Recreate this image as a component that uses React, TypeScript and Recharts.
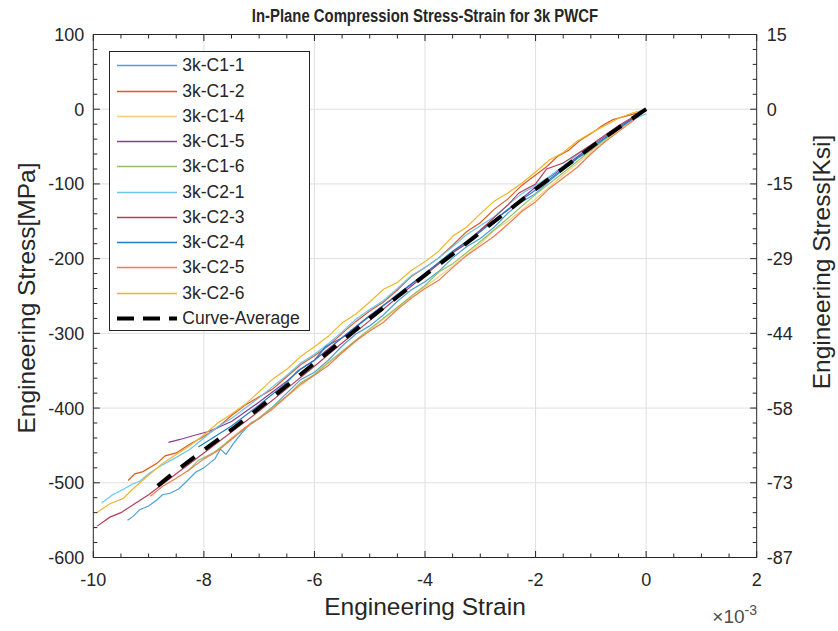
import React from "react";
import { LineChart, Line, XAxis, YAxis, ReferenceLine } from "recharts";

// strain values are in units of 1e-3, stress in MPa
const c11Strain = [0, -0.25, -0.5, -0.75, -1, -1.25, -1.5, -1.75, -2, -2.25, -2.5, -2.75, -3, -3.25, -3.5, -3.75, -4, -4.25, -4.5, -4.75, -5, -5.25, -5.5, -5.75, -6, -6.25, -6.5, -6.75, -7, -7.15, -7.3, -7.45, -7.6, -7.7, -7.8, -8, -8.15, -8.31, -8.45, -8.61, -8.75, -8.85, -9, -9.16, -9.28, -9.38];
const c11Stress = [0, -14, -27, -40, -55, -66, -81, -96, -113, -124, -139, -158, -173, -184, -199, -217, -231, -242, -257, -275, -290, -301, -317, -336, -352, -362, -380, -398, -414, -420, -432, -446, -462, -455, -468, -480, -486, -498, -508, -514, -516, -523, -531, -536, -545, -550];

const c12Strain = [0, -0.2, -0.4, -0.6, -0.8, -1, -1.2, -1.4, -1.6, -1.8, -2, -2.25, -2.5, -2.75, -3, -3.25, -3.5, -3.75, -4, -4.25, -4.5, -4.75, -5, -5.25, -5.5, -5.75, -6, -6.25, -6.5, -6.75, -7, -7.25, -7.5, -7.75, -8, -8.25, -8.5, -8.7, -8.85, -9.1, -9.25, -9.37];
const c12Stress = [0, -6, -10, -14, -22, -33, -42, -55, -63, -77, -88, -102, -120, -134, -152, -164, -182, -199, -212, -224, -242, -258, -270, -284, -300, -317, -330, -342, -358, -374, -385, -396, -410, -426, -438, -448, -460, -464, -474, -485, -488, -497];

const c14Strain = [0, -0.5, -1, -1.5, -2, -2.5, -2.75, -3, -3.5, -4, -4.25, -4.5, -5, -5.5, -5.75, -6, -6.5, -7, -7.3, -7.6];
const c14Stress = [0, -28, -58, -88, -120, -150, -162, -180, -210, -238, -250, -266, -296, -326, -338, -355, -385, -414, -428, -446];

const c15Strain = [0, -0.5, -1, -1.5, -2, -2.5, -3, -3.25, -3.5, -4, -4.5, -5, -5.5, -6, -6.25, -6.5, -7, -7.5, -7.9, -8.2, -8.43, -8.64];
const c15Stress = [0, -24, -50, -78, -104, -135, -162, -180, -192, -220, -249, -276, -306, -336, -348, -364, -392, -418, -431, -437, -442, -446];

const c16Strain = [0, -0.5, -1, -1.5, -2, -2.5, -3, -3.5, -3.75, -4, -4.5, -5, -5.5, -6, -6.25, -6.5, -7, -7.5, -7.83, -8.1, -8.3];
const c16Stress = [0, -27, -55, -85, -114, -146, -177, -207, -218, -236, -265, -294, -324, -355, -366, -384, -413, -441, -460, -470, -485];

const c21Strain = [0, -0.25, -0.5, -0.75, -1, -1.25, -1.5, -1.75, -2, -2.25, -2.5, -2.75, -3, -3.25, -3.5, -3.75, -4, -4.25, -4.5, -4.75, -5, -5.25, -5.5, -5.75, -6, -6.25, -6.5, -6.75, -7, -7.25, -7.5, -7.75, -8, -8.25, -8.5, -8.75, -9, -9.16, -9.3, -9.46, -9.65, -9.85];
const c21Stress = [-6, -14, -26, -39, -50, -61, -76, -90, -102, -113, -128, -144, -156, -168, -184, -199, -212, -223, -240, -256, -268, -281, -298, -314, -328, -340, -356, -371, -386, -400, -414, -425, -440, -455, -466, -476, -488, -498, -502, -509, -516, -527];

const c23Strain = [0, -0.5, -1, -1.5, -1.8, -2, -2.3, -2.5, -3, -3.5, -4, -4.5, -5, -5.5, -6, -6.5, -7, -7.5, -8, -8.5, -9, -9.21, -9.5, -9.7, -9.93];
const c23Stress = [0, -22, -48, -72, -80, -100, -112, -128, -162, -192, -222, -252, -283, -313, -344, -374, -404, -432, -460, -488, -516, -526, -540, -546, -558];

const c24Strain = [0, -0.5, -1, -1.5, -2, -2.5, -3, -3.5, -4, -4.5, -5, -5.5, -5.8, -6, -6.3, -6.5, -7, -7.5, -8.1];
const c24Stress = [0, -26, -52, -80, -108, -134, -164, -190, -220, -248, -277, -306, -318, -336, -350, -366, -396, -424, -452];

const c25Strain = [0, -0.25, -0.5, -0.75, -1, -1.25, -1.5, -1.75, -2, -2.25, -2.5, -2.75, -3, -3.25, -3.5, -3.75, -4, -4.25, -4.5, -4.75, -5, -5.25, -5.5, -5.75, -6, -6.25, -6.5, -6.75, -7, -7.25, -7.5, -7.75, -8, -8.25, -8.5, -8.75, -8.97];
const c25Stress = [0, -16, -30, -44, -60, -78, -92, -106, -124, -137, -154, -170, -183, -196, -212, -229, -240, -253, -268, -285, -297, -310, -326, -343, -356, -368, -384, -401, -414, -426, -442, -457, -468, -482, -494, -505, -518];

const c26Strain = [0, -0.25, -0.5, -0.75, -1, -1.25, -1.5, -1.75, -2, -2.25, -2.5, -2.75, -3, -3.25, -3.5, -3.75, -4, -4.25, -4.5, -4.75, -5, -5.25, -5.5, -5.75, -6, -6.25, -6.5, -6.75, -7, -7.25, -7.5, -7.75, -8, -8.25, -8.5, -8.75, -9, -9.25, -9.46, -9.7, -9.94];
const c26Stress = [0, -5, -12, -22, -32, -43, -58, -68, -84, -99, -112, -123, -140, -158, -170, -190, -204, -216, -232, -241, -258, -274, -286, -304, -318, -331, -348, -361, -378, -395, -408, -420, -436, -450, -462, -474, -490, -506, -521, -528, -540];

const avgStrain = [0, -0.5, -1, -1.5, -2, -2.5, -3, -3.5, -4, -4.5, -5, -5.5, -6, -6.5, -7, -7.5, -8, -8.5, -8.9];
const avgStress = [0, -25, -51, -79, -107, -136, -165, -194, -222, -251, -280, -310, -340, -370, -400, -429, -456, -484, -508];

const xMajorTicks = [-10, -8, -6, -4, -2, 0, 2];
const yMajorTicks = [100, 0, -100, -200, -300, -400, -500, -600];
const rightTickLabels = ["15", "0", "-15", "-29", "-44", "-58", "-73", "-87"];

const toPoints = (xs: number[], ys: number[]) => xs.map((x, i) => ({ x, y: ys[i] }));

const specimens = [
  { name: "3k-C1-1", color: "#4d9fd8", data: toPoints(c11Strain, c11Stress) },
  { name: "3k-C1-2", color: "#dd5a22", data: toPoints(c12Strain, c12Stress) },
  { name: "3k-C1-4", color: "#f2cf7e", data: toPoints(c14Strain, c14Stress) },
  { name: "3k-C1-5", color: "#8a3d9a", data: toPoints(c15Strain, c15Stress) },
  { name: "3k-C1-6", color: "#92c063", data: toPoints(c16Strain, c16Stress) },
  { name: "3k-C2-1", color: "#6cc6ef", data: toPoints(c21Strain, c21Stress) },
  { name: "3k-C2-3", color: "#b3405a", data: toPoints(c23Strain, c23Stress) },
  { name: "3k-C2-4", color: "#1f7fc4", data: toPoints(c24Strain, c24Stress) },
  { name: "3k-C2-5", color: "#ef7b4f", data: toPoints(c25Strain, c25Stress) },
  { name: "3k-C2-6", color: "#f0b52a", data: toPoints(c26Strain, c26Stress) },
];
const avgData = toPoints(avgStrain, avgStress);

// minor tick positions (every 0.5 on x, every 20 MPa on y)
const xAllTicks: number[] = [];
for (let v = -10; v <= 2.001; v += 0.5) xAllTicks.push(Math.round(v * 10) / 10);
const yAllTicks: number[] = [];
for (let v = 100; v >= -600; v -= 20) yAllTicks.push(v);

const W = 838;
const H = 631;
// axes take 1px each, so the plot box is 93.3..756.7 x 34.5..557.5
const M = { top: 33.5, right: 80.3, bottom: 72.5, left: 92.3 };
const AX = "#262626";
const FONT = "'Liberation Sans', Arial, sans-serif";
const TICK_FS = 18;
const MAJ = 6.5;
const MIN = 4;

const isXMajor = (v: number) => xMajorTicks.some((t) => Math.abs(t - v) < 1e-6);
const isYMajor = (v: number) => yMajorTicks.some((t) => Math.abs(t - v) < 1e-6);

const BottomTick = (p: any) => {
  const major = isXMajor(p.payload.value);
  return (
    <g>
      <line x1={p.x} x2={p.x} y1={p.y} y2={p.y - (major ? MAJ : MIN)} stroke={AX} />
      {major && (
        <text x={p.x} y={p.y + 28} textAnchor="middle" fontSize={TICK_FS} fontFamily={FONT} fill={AX}>
          {p.payload.value}
        </text>
      )}
    </g>
  );
};

const TopTick = (p: any) => {
  const major = isXMajor(p.payload.value);
  return <line x1={p.x} x2={p.x} y1={p.y} y2={p.y + (major ? MAJ : MIN)} stroke={AX} />;
};

const LeftTick = (p: any) => {
  const major = isYMajor(p.payload.value);
  return (
    <g>
      <line x1={p.x} x2={p.x + (major ? MAJ : MIN)} y1={p.y} y2={p.y} stroke={AX} />
      {major && (
        <text x={p.x - 9} y={p.y + 6.5} textAnchor="end" fontSize={TICK_FS} fontFamily={FONT} fill={AX}>
          {p.payload.value}
        </text>
      )}
    </g>
  );
};

const RightTick = (p: any) => {
  const v = p.payload.value;
  const idx = yMajorTicks.findIndex((t) => Math.abs(t - v) < 1e-6);
  return (
    <g>
      <line x1={p.x} x2={p.x - (idx >= 0 ? MAJ : MIN)} y1={p.y} y2={p.y} stroke={AX} />
      {idx >= 0 && (
        <text x={p.x + 10} y={p.y + 6.5} textAnchor="start" fontSize={TICK_FS} fontFamily={FONT} fill={AX}>
          {rightTickLabels[idx]}
        </text>
      )}
    </g>
  );
};

const LegendBox = () => (
  <div
    style={{
      position: "absolute",
      left: 109.3,
      top: 50.7,
      width: 201,
      height: 280,
      border: `1px solid ${AX}`,
      background: "#fff",
      boxSizing: "border-box",
      fontFamily: FONT,
      fontSize: 17.5,
      color: AX,
    }}
  >
    {[...specimens, { name: "Curve-Average", color: "#000", data: [] }].map((s, i) => {
      const isAvg = s.name === "Curve-Average";
      return (
        <div key={s.name} style={{ position: "absolute", left: 0, top: 14.3 + i * 25.25 - 12.5, height: 25, width: 200 }}>
          <svg width={64} height={25} style={{ position: "absolute", left: 5.5, top: 0 }}>
            <line
              x1={1}
              x2={61}
              y1={12.5}
              y2={12.5}
              stroke={s.color}
              strokeWidth={isAvg ? 4 : 1.4}
              strokeDasharray={isAvg ? "17 9" : undefined}
            />
          </svg>
          <span style={{ position: "absolute", left: 72, top: 2, lineHeight: "21px", whiteSpace: "nowrap" }}>{s.name}</span>
        </div>
      );
    })}
  </div>
);

const axisCommon = {
  interval: 0 as const,
  tickSize: 0,
  tickMargin: 0,
  tickLine: false,
  axisLine: { stroke: AX },
};

const rotatedLabel = (text: string, cx: number, cy: number) => (
  <div style={{ position: "absolute", left: cx, top: cy, width: 0, height: 0 }}>
    <div
      style={{
        position: "absolute",
        left: -200,
        top: -15,
        width: 400,
        textAlign: "center",
        fontSize: 24.5,
        lineHeight: "30px",
        transform: "rotate(-90deg)",
        whiteSpace: "nowrap",
      }}
    >
      {text}
    </div>
  </div>
);

export default function App() {
  return (
    <div style={{ position: "absolute", left: 0, top: 0, width: W, height: H, background: "#fff", fontFamily: FONT, color: AX }}>
      <LineChart width={W} height={H} margin={M}>
        <XAxis xAxisId="b" type="number" dataKey="x" domain={[-10, 2]} ticks={xAllTicks} height={1} tick={BottomTick} {...axisCommon} />
        <XAxis
          xAxisId="t"
          orientation="top"
          type="number"
          dataKey="x"
          domain={[-10, 2]}
          ticks={xAllTicks}
          height={1}
          tick={TopTick}
          {...axisCommon}
        />
        <YAxis yAxisId="l" type="number" domain={[-600, 100]} ticks={yAllTicks} width={1} tick={LeftTick} {...axisCommon} />
        <YAxis
          yAxisId="r"
          orientation="right"
          type="number"
          domain={[-600, 100]}
          ticks={yAllTicks}
          width={1}
          tick={RightTick}
          {...axisCommon}
        />
        {xMajorTicks
          .filter((v) => v > -10 && v < 2)
          .map((v) => (
            <ReferenceLine key={"gx" + v} xAxisId="b" yAxisId="l" x={v} stroke="#dfdfdf" strokeWidth={1} />
          ))}
        {yMajorTicks
          .filter((v) => v > -600 && v < 100)
          .map((v) => (
            <ReferenceLine key={"gy" + v} xAxisId="b" yAxisId="l" y={v} stroke="#dfdfdf" strokeWidth={1} />
          ))}
        {specimens.map((s) => (
          <Line
            key={s.name}
            xAxisId="b"
            yAxisId="l"
            data={s.data}
            dataKey="y"
            stroke={s.color}
            strokeWidth={1.2}
            dot={false}
            activeDot={false}
            isAnimationActive={false}
          />
        ))}
        <Line
          xAxisId="b"
          yAxisId="l"
          data={avgData}
          dataKey="y"
          stroke="#000"
          strokeWidth={4}
          strokeDasharray="17 13"
          dot={false}
          activeDot={false}
          isAnimationActive={false}
        />
        <Line
          xAxisId="t"
          yAxisId="r"
          data={avgData}
          dataKey="y"
          stroke="none"
          dot={false}
          activeDot={false}
          isAnimationActive={false}
        />
      </LineChart>

      <div
        style={{
          position: "absolute",
          left: 0,
          width: 850,
          top: 5,
          textAlign: "center",
          fontWeight: "bold",
          fontSize: 17.5,
          lineHeight: "22px",
          transform: "scaleX(0.85)",
        }}
      >
        In-Plane Compression Stress-Strain for 3k PWCF
      </div>

      <div style={{ position: "absolute", left: 225, width: 400, top: 592, textAlign: "center", fontSize: 24.5, lineHeight: "30px" }}>
        Engineering Strain
      </div>

      <div
        style={{
          position: "absolute",
          right: 81,
          top: 598,
          fontSize: 19,
          lineHeight: "24px",
          color: "#4d4d4d",
          whiteSpace: "nowrap",
          textAlign: "right",
        }}
      >
        ×10<sup style={{ fontSize: 14, verticalAlign: "8px" }}>-3</sup>
      </div>

      {rotatedLabel("Engineering Stress[MPa]", 27, 298)}
      {rotatedLabel("Engineering Stress[Ksi]", 822, 262)}

      <LegendBox />
    </div>
  );
}
